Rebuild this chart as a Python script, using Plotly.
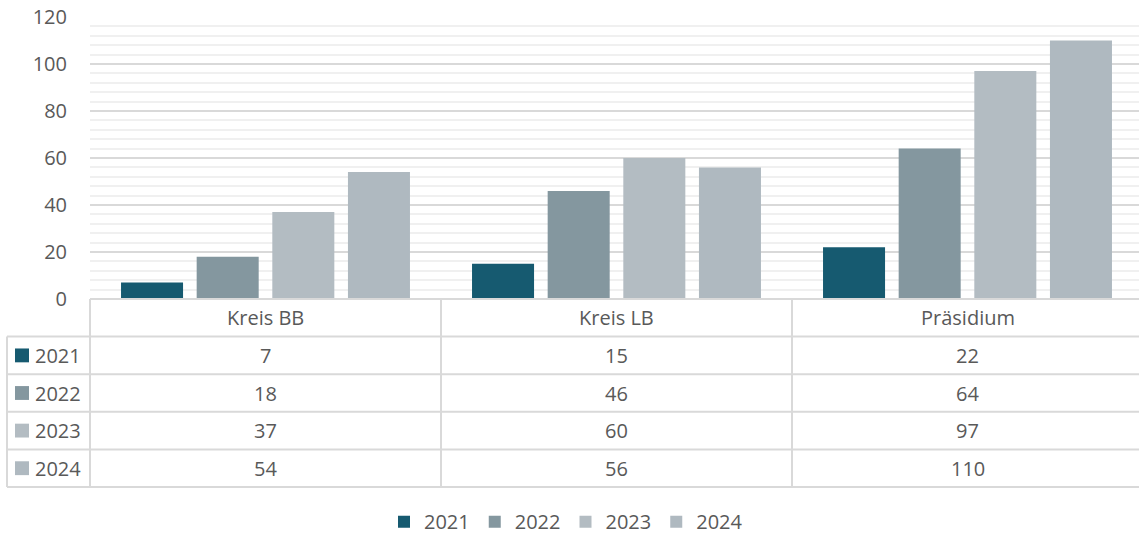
import plotly.graph_objects as go

categories = ["Kreis BB", "Kreis LB", "Präsidium"]
years = ["2021", "2022", "2023", "2024"]
v2021 = [7, 15, 22]
v2022 = [18, 46, 64]
v2023 = [37, 60, 97]
v2024 = [54, 56, 110]
series = [v2021, v2022, v2023, v2024]
colors = ["#165a70", "#84979f", "#b3bcc2", "#afb9c0"]
y_ticks = [0, 20, 40, 60, 80, 100, 120]

TXT = "#595959"
GRID = "#d9d9d9"
FONT = "Open Sans"
FS = 20

W, H = 1139, 542
L, T = 90, 17
PB = 302  # pixel bottom of plot
PH = PB - T
B = H - PB
PW = W - L
cat_w = 351.0

def py(p):  # pixel y -> paper y
    return (PB - p) / PH

def px(p):  # pixel x -> paper x
    return (p - L) / PW

fig = go.Figure()
x_idx = list(range(len(categories)))
for yr, vals, col in zip(years, series, colors):
    fig.add_trace(go.Bar(x=x_idx, y=vals, name=yr, marker=dict(color=col, line=dict(width=0))))

x_end = -0.5 + PW / cat_w

shapes = []
line = dict(color=GRID, width=2)
row_edges = [302, 340, 378, 416, 454, 492]
shapes.append(dict(type="line", xref="paper", yref="paper", x0=0, x1=1.01, y0=py(302), y1=py(302), line=line, layer="above"))
for r in row_edges[1:]:
    shapes.append(dict(type="line", xref="paper", yref="paper", x0=px(7), x1=1.01, y0=py(r), y1=py(r), line=line))
shapes.append(dict(type="line", xref="paper", yref="paper", x0=px(7), x1=px(7), y0=py(340), y1=py(492), line=line))
shapes.append(dict(type="line", xref="paper", yref="paper", x0=0, x1=0, y0=py(302), y1=py(492), line=line))
for i in range(1, len(categories)):
    shapes.append(dict(type="line", xref="x", yref="paper", x0=i - 0.5, x1=i - 0.5, y0=py(302), y1=py(492), line=line))

annotations = []
for i, c in enumerate(categories):
    annotations.append(dict(x=i, xref="x", y=py(321), yref="paper", text=c, showarrow=False,
                            font=dict(family=FONT, size=FS, color=TXT), xanchor="center", yanchor="middle"))
for k, (yr, vals, col) in enumerate(zip(years, series, colors)):
    yc = (row_edges[k + 1] + row_edges[k + 2]) / 2
    shapes.append(dict(type="rect", xref="paper", yref="paper", x0=px(15), x1=px(29), y0=py(yc - 7), y1=py(yc + 7),
                       fillcolor=col, line=dict(width=0)))
    annotations.append(dict(x=px(33), xref="paper", y=py(yc), yref="paper", text=yr, showarrow=False,
                            font=dict(family=FONT, size=FS, color=TXT), xanchor="left", yanchor="middle"))
    for i, v in enumerate(vals):
        annotations.append(dict(x=i, xref="x", y=py(yc), yref="paper", text=str(v), showarrow=False,
                                font=dict(family=FONT, size=FS, color=TXT), xanchor="center", yanchor="middle"))

fig.update_layout(
    width=W, height=H,
    margin=dict(l=L, r=0, t=T, b=B, pad=0),
    paper_bgcolor="white", plot_bgcolor="white",
    barmode="group", bargap=0.138, bargroupgap=0.18,
    font=dict(family=FONT, size=FS, color=TXT),
    xaxis=dict(range=[-0.5, x_end], showticklabels=False, showgrid=False, zeroline=False, showline=False, fixedrange=True),
    yaxis=dict(range=[0, 120], tickvals=y_ticks, showgrid=True, gridcolor=GRID, gridwidth=1.5,
               zeroline=False, showline=False, ticks="", ticklabelstandoff=22,
               tickfont=dict(family=FONT, size=FS, color=TXT),
               minor=dict(dtick=4, showgrid=True, gridcolor="#f0f0f0", gridwidth=2)),
    legend=dict(orientation="h", x=px(566), xanchor="center", y=py(527), yanchor="middle",
                font=dict(family=FONT, size=FS, color=TXT), itemwidth=30, tracegroupgap=0),
    shapes=shapes, annotations=annotations,
)

fig.write_html("out.html")
